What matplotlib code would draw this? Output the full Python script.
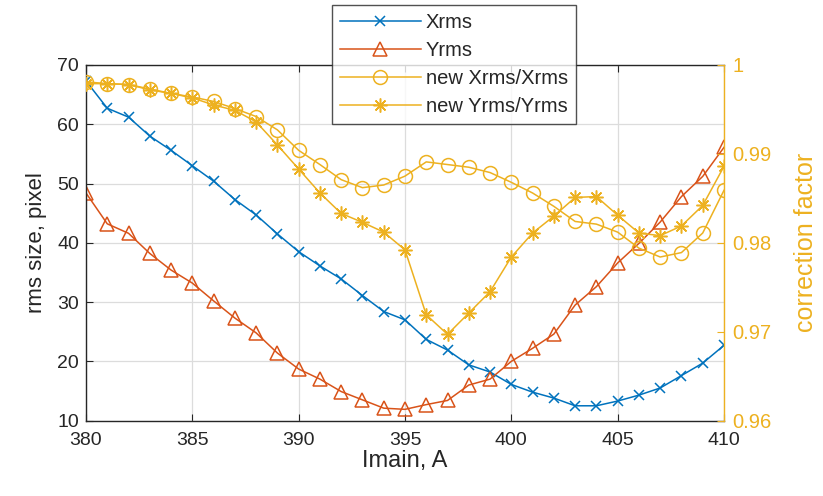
import numpy as np
import matplotlib
matplotlib.use("Agg")
import matplotlib.pyplot as plt

plt.rcParams['font.family'] = ['Liberation Sans', 'DejaVu Sans']

# main current scan, A
imain = np.arange(380, 411)

xrms = [67.3, 62.7, 61.2, 58.0, 55.6, 53.0, 50.4, 47.3, 44.7, 41.5,
        38.5, 36.1, 33.9, 31.1, 28.4, 27.0, 23.7, 21.9, 19.4, 18.2,
        16.1, 14.8, 13.8, 12.5, 12.5, 13.3, 14.3, 15.5, 17.6, 19.7, 22.7]
yrms = [48.4, 43.2, 41.6, 38.2, 35.4, 33.2, 30.2, 27.3, 24.8, 21.4,
        18.7, 17.0, 14.9, 13.5, 12.1, 11.9, 12.7, 13.4, 16.0, 17.0,
        20.0, 22.2, 24.6, 29.5, 32.6, 36.6, 39.9, 43.5, 47.8, 51.2, 56.1]
xcorr = [0.9981, 0.9979, 0.9978, 0.9973, 0.9968, 0.9964, 0.9959, 0.9951, 0.9942, 0.9927,
         0.9904, 0.9888, 0.9871, 0.9862, 0.9865, 0.9875, 0.9891, 0.9888, 0.9885, 0.9879,
         0.9868, 0.9856, 0.9841, 0.9824, 0.9821, 0.9812, 0.9794, 0.9784, 0.9789, 0.9811, 0.9859]
ycorr = [0.9979, 0.9979, 0.9978, 0.9972, 0.9968, 0.9963, 0.9955, 0.9949, 0.9936, 0.9910,
         0.9883, 0.9856, 0.9833, 0.9823, 0.9812, 0.9792, 0.9719, 0.9697, 0.9721, 0.9745,
         0.9784, 0.9811, 0.9830, 0.9851, 0.9852, 0.9831, 0.9811, 0.9808, 0.9819, 0.9842, 0.9886]

blue = '#0072BD'
red = '#D95319'
yellow = '#EDB120'
dark = '#262626'

fig = plt.figure(figsize=(8.23, 4.96), dpi=100)
ax = fig.add_axes([0.1045, 0.152, 0.7752, 0.717])
ax2 = ax.twinx()

l1, = ax.plot(imain, xrms, color=blue, lw=1.1, marker='x', ms=6.5, mew=1.1)
l2, = ax.plot(imain, yrms, color=red, lw=1.1, marker='^', ms=9.5, mfc='none', mew=1.1)
l3, = ax2.plot(imain, xcorr, color=yellow, lw=1.1, marker='o', ms=10, mfc='none', mew=1.1)
l4, = ax2.plot(imain, ycorr, color=yellow, lw=1.1, marker=(8, 2, 0), ms=10, mew=1.1)

ax.set_xlim(380, 410)
ax.set_ylim(10, 70)
ax2.set_ylim(0.96, 1.0)
ax.set_xticks(np.arange(380, 411, 5))
ax.set_yticks(np.arange(10, 71, 10))
ax2.set_yticks([0.96, 0.97, 0.98, 0.99, 1.0])
ax2.set_yticklabels(['0.96', '0.97', '0.98', '0.99', '1'])

ax.grid(True, color='#dcdcdc', lw=0.9)
ax.set_axisbelow(True)

for side in ['left', 'bottom', 'top']:
    ax.spines[side].set_color(dark)
    ax.spines[side].set_linewidth(1.0)
ax.spines['right'].set_visible(False)
for side in ['left', 'bottom', 'top']:
    ax2.spines[side].set_visible(False)
ax2.spines['right'].set_color(yellow)
ax2.spines['right'].set_linewidth(1.0)

ax.tick_params(axis='both', colors=dark, labelsize=14, direction='in', length=5, top=True)
ax.tick_params(axis='x', pad=8)
ax.tick_params(axis='y', pad=5)
ax2.tick_params(axis='y', colors=yellow, labelsize=14.5, direction='in', length=5, pad=6)

ax.set_xlabel('Imain, A', fontsize=17, color=dark, labelpad=1)
ax.set_ylabel('rms size, pixel', fontsize=16, color=dark, labelpad=7)
ax2.set_ylabel('correction factor', fontsize=18, color=yellow, labelpad=16)

leg = fig.legend([l1, l2, l3, l4],
                 ['Xrms', 'Yrms', 'new Xrms/Xrms', 'new Yrms/Yrms'],
                 loc='upper left', bbox_to_anchor=(332 / 823, 1 - 5 / 496),
                 fontsize=14.5, handlelength=4.0, frameon=True, fancybox=False,
                 borderpad=0.4, labelspacing=0.45, handletextpad=0.25,
                 borderaxespad=0)
leg.get_frame().set_edgecolor(dark)
leg.get_frame().set_linewidth(1.0)
for t in leg.get_texts():
    t.set_color(dark)

fig.savefig('out.png', dpi=100)
